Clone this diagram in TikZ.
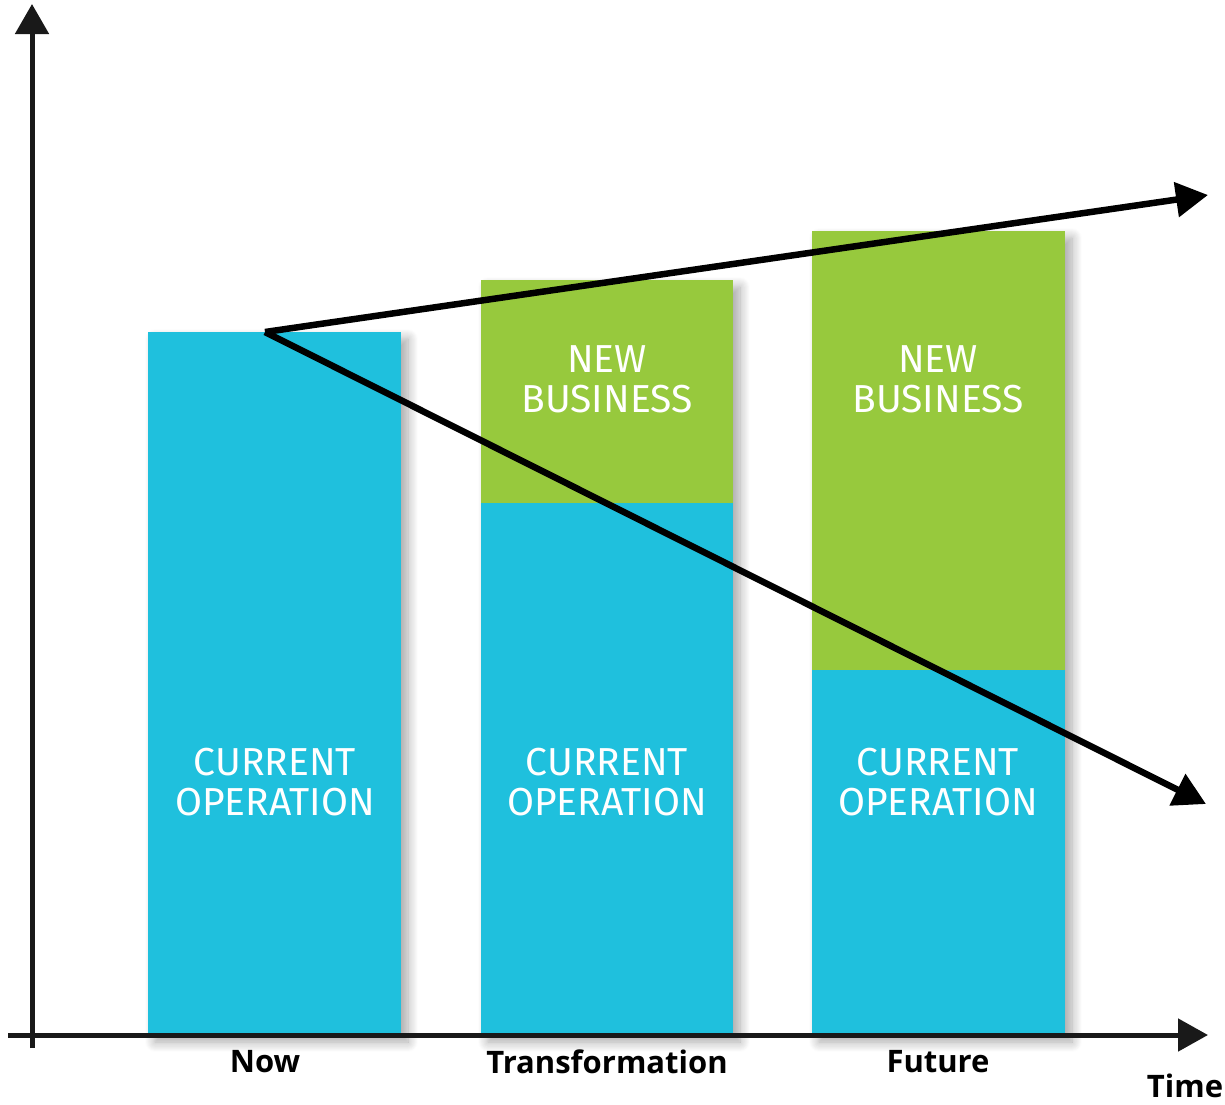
\documentclass[tikz,border=0pt]{standalone}
\usepackage{fontspec}
\setmainfont{Fira Sans}
\newfontfamily\labfont{Open Sans}
\usetikzlibrary{arrows.meta,shadows.blur}
\definecolor{cop}{HTML}{1FC0DD}
\definecolor{nbz}{HTML}{97C93D}
\tikzset{
  barbox/.style={fill=#1, draw=none, blur shadow={shadow xshift=7pt, shadow yshift=-7pt, shadow blur steps=10, shadow blur radius=10pt, shadow opacity=35}},
  bartext/.style={text=white, align=center, font=\fontsize{39}{40}\selectfont},
  axislabel/.style={font=\labfont\bfseries\fontsize{31}{34}\selectfont, text=black, inner sep=1pt},
  axisline/.style={line width=5pt, draw=black!90},
  trend/.style={line width=6.5pt, draw=black, -{Triangle[length=32pt,width=34pt]}, line join=miter}
}
\begin{document}
\begin{tikzpicture}[x=1pt,y=-1pt]
\useasboundingbox (0,0) rectangle (1225,1104);
% bars
\path[barbox=cop] (148,332) rectangle (401,1035);
\path[barbox=nbz] (481,280) rectangle (733,1035);
\fill[cop] (481,503) rectangle (733,1035);
\path[barbox=nbz] (812,231) rectangle (1065,1035);
\fill[cop] (812,670) rectangle (1065,1035);
% bar texts
\node[bartext] (co1) at (275,782) {CURRENT\\OPERATION};
\node[bartext] (co2) at (607,782) {CURRENT\\OPERATION};
\node[bartext] (co3) at (938,782) {CURRENT\\OPERATION};
\node[bartext] (nb2) at (607,379) {NEW\\BUSINESS};
\node[bartext] (nb3) at (938,379) {NEW\\BUSINESS};
% axes
\coordinate (ybot) at (32,1048);
\coordinate (ytop) at (32,4);
\coordinate (xleft) at (8,1035);
\coordinate (xright) at (1208,1035);
\draw[axisline, -{Triangle[length=30pt,width=33pt]}] (ybot) -- (ytop);
\draw[axisline, -{Triangle[length=30pt,width=32pt]}] (xleft) -- (xright);
% trend arrows
\coordinate (o) at (265,332);
\coordinate (up) at (1208,195);
\coordinate (down) at (1206,804);
\draw[trend] (o) -- (up);
\draw[trend] (o) -- (down);
% labels
\node[axislabel] (now) at (265,1062) {Now};
\node[axislabel] (tr) at (607,1062) {Transformation};
\node[axislabel] (fu) at (938,1062) {Future};
\node[axislabel] (time) at (1185,1086) {Time};
\end{tikzpicture}
\end{document}
